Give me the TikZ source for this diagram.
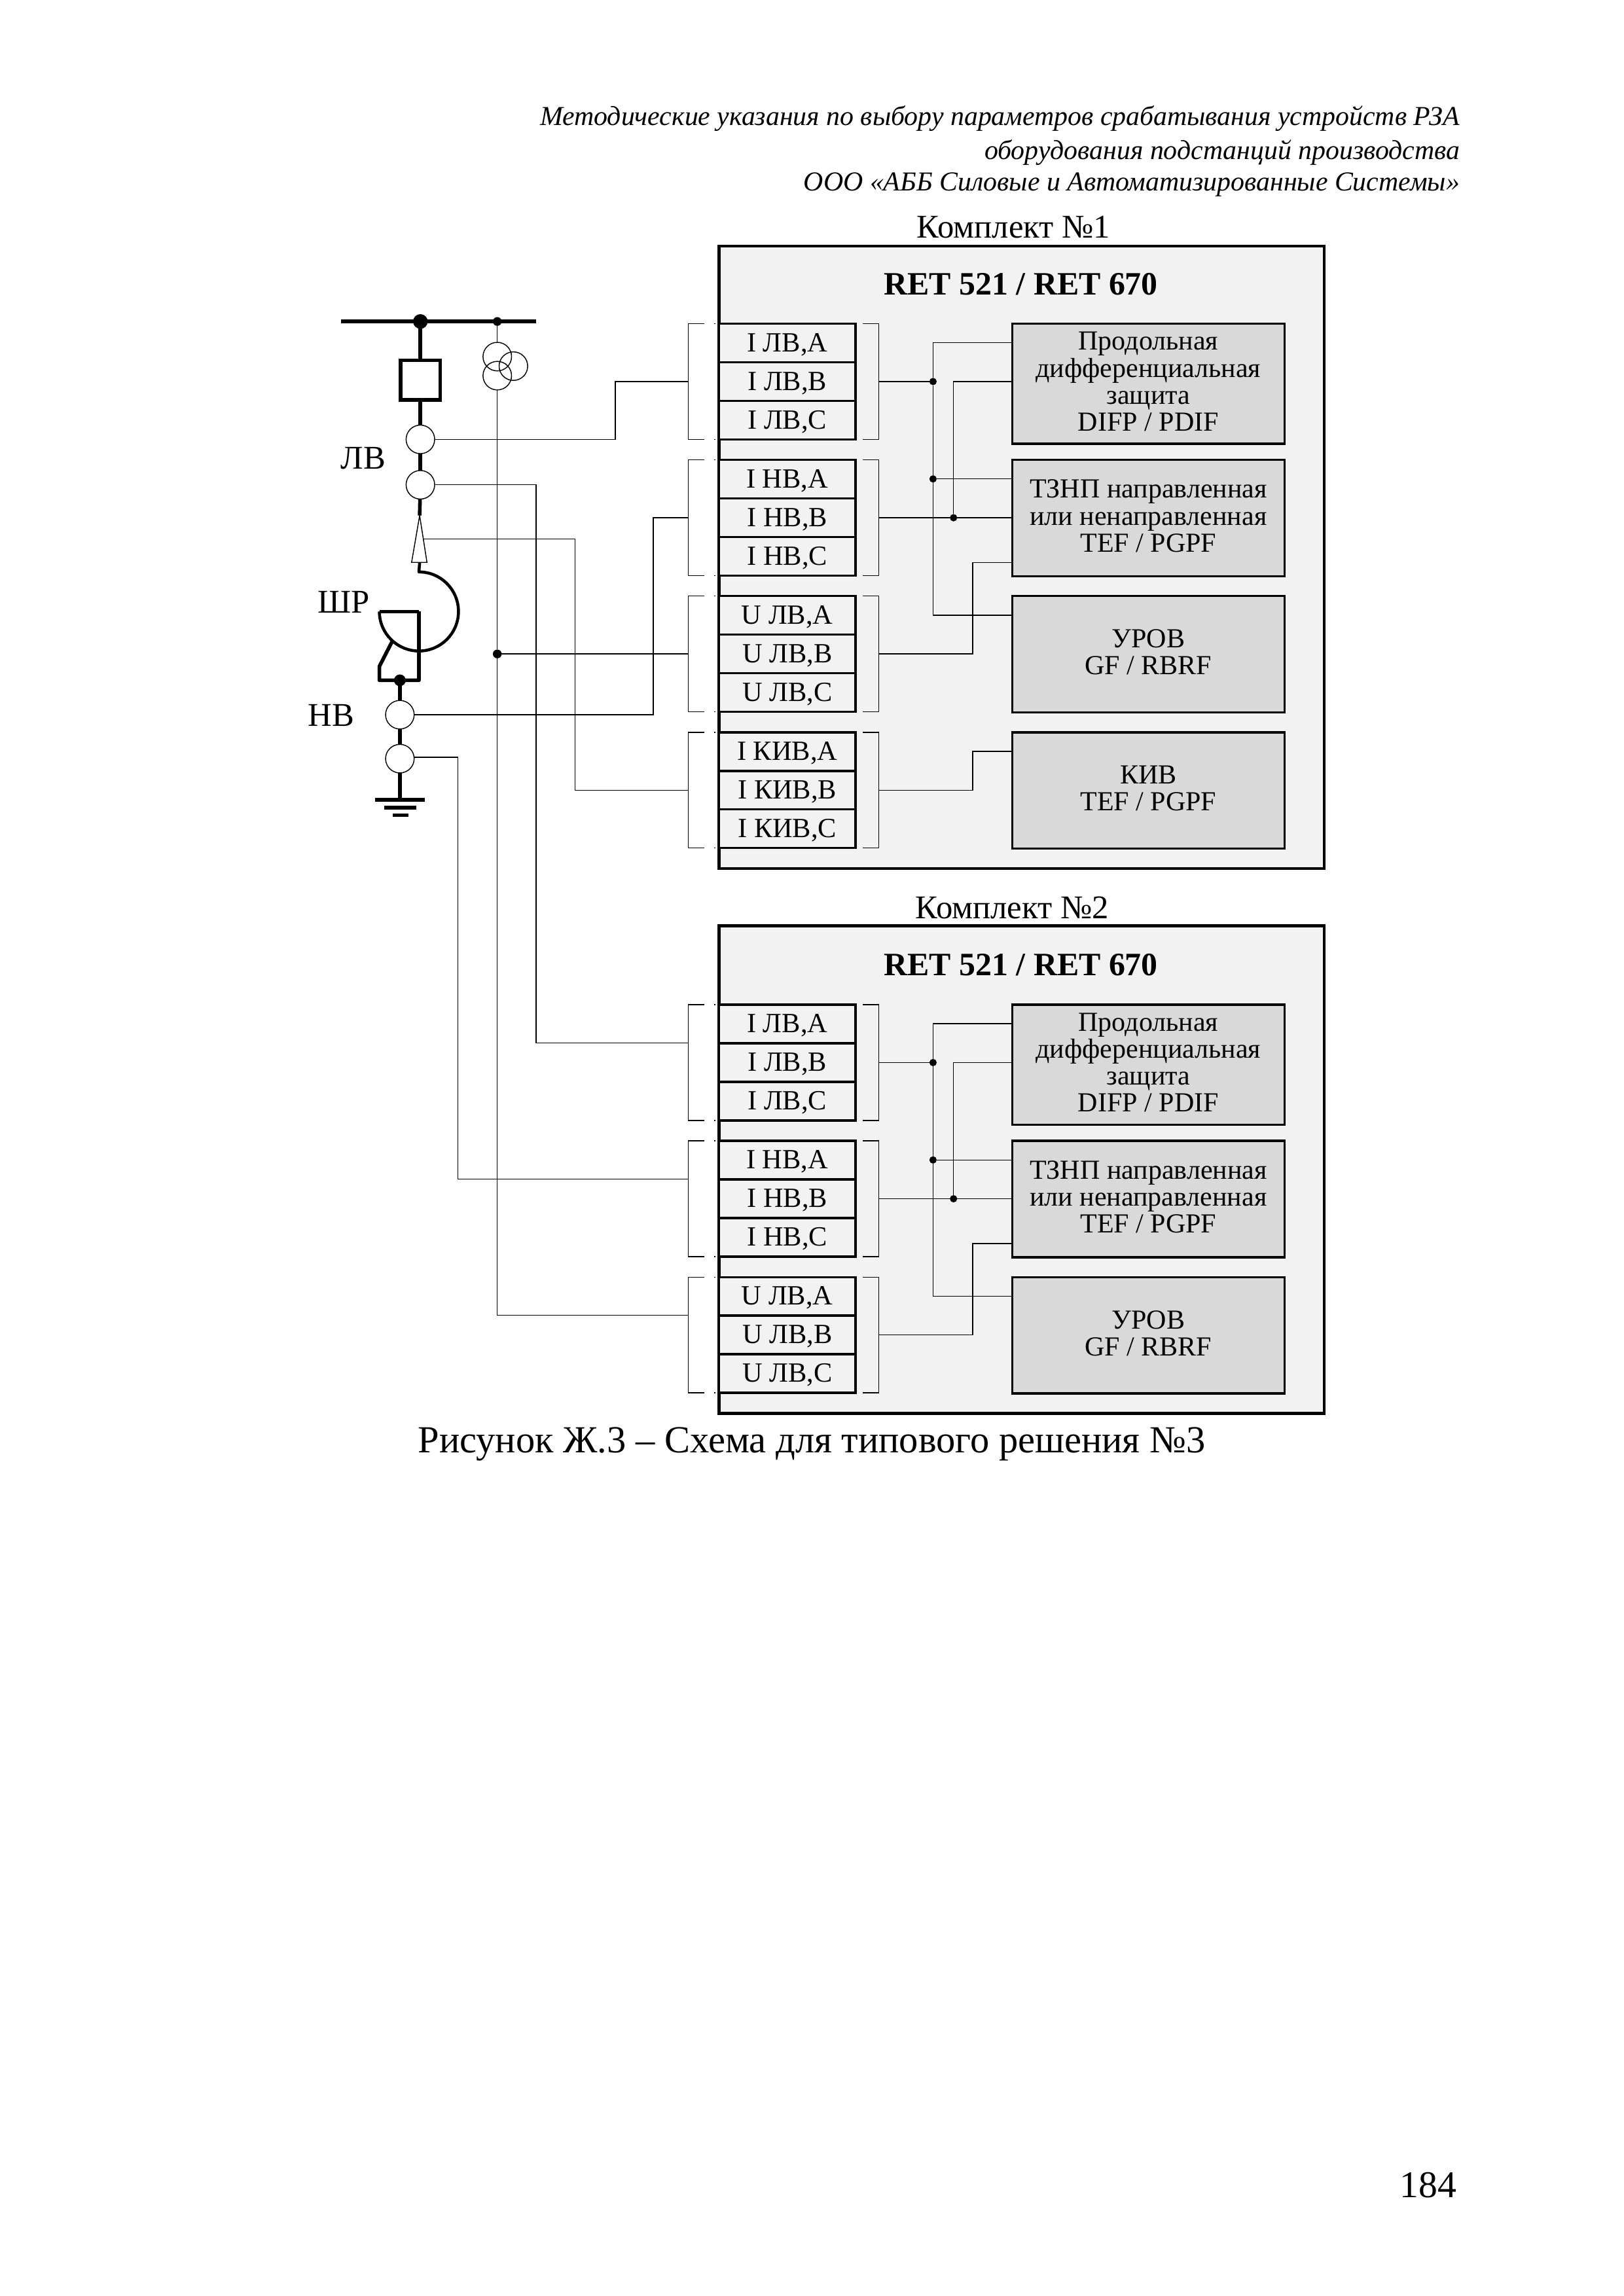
\documentclass[tikz,border=0pt]{standalone}
\usepackage{fontspec}
\setmainfont{Liberation Serif}
\def\uu{0.019091cm}
\tikzset{
  wire/.style={line width=0.35pt,black},
  power/.style={line width=1.35pt,black},
  thickarc/.style={line width=1.1pt,black,line join=round},
  kitbox/.style={draw,line width=1.15pt,fill=black!5,inner sep=0,outer sep=0,anchor=north west},
  rowbox/.style={draw,line width=0.85pt,fill=black!5,inner sep=0,outer sep=0,minimum width=93*\uu,minimum height=26.33*\uu,text height=8pt,font=\fontsize{10.3}{10}\selectfont},
  funcbox/.style={draw,line width=0.85pt,fill=black!15,inner sep=0,outer sep=0,anchor=north west,minimum width=186*\uu,align=center,text depth=1.65pt,font=\fontsize{10.2}{10}\selectfont},
  ctc/.style={circle,draw,line width=0.35pt,fill=white,inner sep=0,outer sep=0,minimum size=19.5*\uu},
  vtc/.style={circle,draw,line width=0.35pt,inner sep=0,outer sep=0,minimum size=19.5*\uu},
  jdot/.style={circle,fill=black,inner sep=0,outer sep=0,minimum size=5*\uu},
  bdot/.style={circle,fill=black,inner sep=0,outer sep=0,minimum size=10*\uu},
  labeltxt/.style={font=\fontsize{12.3}{14}\selectfont,inner sep=0},
  titletxt/.style={font=\fontsize{12.1}{14}\selectfont\bfseries,inner sep=0},
  headtxt/.style={font=\fontsize{10.15}{12}\selectfont\itshape,inner sep=0,anchor=east},
}
\newcommand{\rowgroup}[5]{%
  \node[rowbox,anchor=north west] (#1a) at (491,#2) {#3};
  \node[rowbox,anchor=north] (#1b) at (#1a.south) {#4};
  \node[rowbox,anchor=north] (#1c) at (#1b.south) {#5};
  \coordinate (#1L) at (470,#2+39.5);
  \coordinate (#1Lu) at (470,#2+26);
  \coordinate (#1R) at (600,#2+39.5);
  \draw[wire] (481,#2) -- (470,#2) -- (470,#2+79) -- (481,#2+79);
  \draw[wire] (487.5,#2) -- (488.5,#2) (487.5,#2+79) -- (488.5,#2+79);
  \draw[wire] (589,#2) -- (600,#2) -- (600,#2+79) -- (589,#2+79);
}
\newcommand{\kitcommon}[1]{%
  \rowgroup{#1a}{221}{I ЛВ,А}{I ЛВ,В}{I ЛВ,С}
  \rowgroup{#1b}{314}{I НВ,А}{I НВ,В}{I НВ,С}
  \rowgroup{#1c}{407}{U ЛВ,А}{U ЛВ,В}{U ЛВ,С}
  \node[funcbox,minimum height=82*\uu] (#1dif) at (691,221) {Продольная\\дифференциальная\\защита\\DIFP / PDIF};
  \node[funcbox,minimum height=79.5*\uu] (#1tef) at (691,314) {ТЗНП направленная\\или ненаправленная\\TEF / PGPF};
  \node[funcbox,minimum height=79.5*\uu] (#1urov) at (691,407) {УРОВ\\GF / RBRF};
  \node[jdot] (#1j1) at (637,260.5) {};
  \node[jdot] (#1j2) at (637,327) {};
  \node[jdot] (#1j3) at (651,353.5) {};
  \coordinate (#1d1) at (691,234);
  \coordinate (#1d2) at (691,260.5);
  \coordinate (#1t1) at (691,327);
  \coordinate (#1t2) at (691,353.5);
  \coordinate (#1t3) at (691,384);
  \coordinate (#1u1) at (691,420);
  \coordinate (#1c3) at (664,446.5);
  \draw[wire] (#1aR) -- (#1j1);
  \draw[wire] (#1d1) -| (#1j1) -- (#1j2) |- (#1u1);
  \draw[wire] (#1j2) -- (#1t1);
  \draw[wire] (#1d2) -| (#1j3);
  \draw[wire] (#1bR) -- (#1t2);
  \draw[wire] (#1cR) -- (#1c3) |- (#1t3);
}
\begin{document}
\begin{tikzpicture}[x=\uu,y=-\uu]
\useasboundingbox[fill=white] (0,0) rectangle (1108.5,1567.7);
% header
\node[headtxt] (h1) at (997,81) {Методические указания по выбору параметров срабатывания устройств РЗА};
\node[headtxt] (h2) at (997,104) {оборудования подстанций производства};
\node[headtxt] (h3) at (997,126) {ООО «АББ Силовые и Автоматизированные Системы»};
% kit 1
\node[labeltxt] (k1name) at (692,155) {Комплект №1};
\node[kitbox,minimum width=413*\uu,minimum height=425*\uu] (k1box) at (491,168) {};
\node[titletxt] (k1title) at (697,194) {RET 521 / RET 670};
\kitcommon{k}
\rowgroup{kd}{500}{I КИВ,А}{I КИВ,В}{I КИВ,С}
\node[funcbox,minimum height=79.5*\uu] (kkiv) at (691,500) {КИВ\\TEF / PGPF};
\coordinate (kk1) at (691,513);
\coordinate (kk2) at (664,539.5);
\draw[wire] (kdR) -- (kk2) |- (kk1);
% kit 2
\node[labeltxt] (m1name) at (691,620) {Комплект №2};
\node[kitbox,minimum width=413*\uu,minimum height=333*\uu] (m1box) at (491,632) {};
\node[titletxt] (m1title) at (697,659) {RET 521 / RET 670};
\begin{scope}[yshift=-465*\uu]
\kitcommon{m}
\end{scope}
% single-line scheme
\coordinate (busL) at (233,219.5);
\coordinate (busR) at (366,219.5);
\node[bdot] (busdot) at (287,219.5) {};
\node[jdot,minimum size=6*\uu] (vtdot) at (339.5,219.5) {};
\draw[power] (busL) -- (busR);
\node[draw,line width=1.35pt,inner sep=0,outer sep=0,minimum width=27*\uu,minimum height=27*\uu,fill=white] (brk) at (287,259.5) {};
\node[ctc] (ct1) at (287,300) {};
\node[ctc] (ct2) at (287,331) {};
\coordinate (triapex) at (286.5,352);
\coordinate (triL) at (281,384);
\coordinate (triR) at (291.5,384);
\coordinate (tribase) at (286.5,384);
\coordinate (triwire) at (289,368);
\draw[power] (busdot) -- (brk);
\draw[power] (brk) -- (ct1);
\draw[power] (ct1) -- (ct2);
\draw[power] (ct2) -- (triapex);
\draw[wire,fill=white] (triapex) -- (triL) -- (triR) -- cycle;
% reactor
\draw[thickarc] (tribase) -- (286,390.5) arc (-90:180:27);
\coordinate (rtop) at (259,417.5);
\coordinate (rbase) at (286,417.5);
\coordinate (rbr) at (286,464.5);
\coordinate (rbl) at (259,464.5);
\coordinate (rbl2) at (259,455);
\coordinate (rdiag) at (268,437.5);
\draw[thickarc] (rtop) -- (rbase);
\draw[power,line join=round] (rbase) -- (rbr) -- (rbl) -- (rbl2) -- (rdiag);
\node[jdot,minimum size=8*\uu] (ndot) at (273,464.5) {};
\node[ctc] (ct3) at (273,488) {};
\node[ctc] (ct4) at (273,518) {};
\coordinate (gnd) at (273,546);
\draw[power] (ndot) -- (ct3);
\draw[power] (ct3) -- (ct4);
\draw[power] (ct4) -- (gnd);
\draw[power] (256,546) -- (290,546);
\draw[power] (262.5,551.5) -- (284,551.5);
\draw[power] (268,556.5) -- (279,556.5);
% VT
\node[vtc] (vt1) at (339.5,243.5) {};
\node[vtc] (vt2) at (339.5,256.5) {};
\node[vtc] (vt3) at (350.5,250) {};
\draw[wire] (vtdot) -- (vt1);
\node[jdot,minimum size=6*\uu] (vj) at (339.5,446.5) {};
\draw[wire] (vt2) -- (vj);
\draw[wire] (vj) |- (mcLu);
\draw[wire] (vj) -- (kcL |- vj);
% connectors to the terminals
\coordinate (b1) at (420,300);
\draw[wire] (ct1) -- (b1) |- (kaL);
\coordinate (b2) at (366,331);
\draw[wire] (ct2) -- (b2) |- (maLu);
\coordinate (b3) at (392.5,368);
\draw[wire] (triwire) -- (b3) |- (kdL);
\coordinate (b4) at (446,488);
\draw[wire] (ct3) -- (b4) |- (kbL);
\coordinate (b5) at (312.5,517);
\draw[wire] (ct4.east |- b5) -- (b5) |- (mbLu);
% labels
\node[labeltxt] (lv) at (248,313) {ЛВ};
\node[labeltxt] (shr) at (234.5,411) {ШР};
\node[labeltxt] (nv) at (226,488.5) {НВ};
% caption
\node[font=\fontsize{14.2}{16}\selectfont,inner sep=0,anchor=west] (cap) at (285,986) {Рисунок Ж.3 – Схема для типового решения №3};
\node[font=\fontsize{14}{16}\selectfont,inner sep=0] (pg) at (975,1492) {184};
\end{tikzpicture}
\end{document}
